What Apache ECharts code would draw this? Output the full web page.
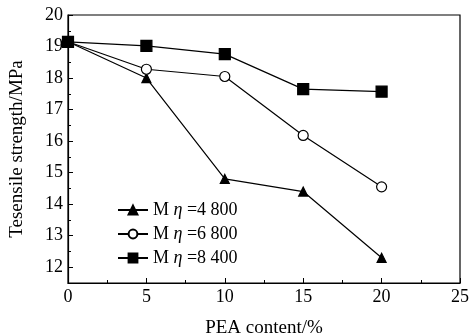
<!DOCTYPE html>
<html>
<head>
<meta charset="utf-8">
<script src="https://cdn.jsdelivr.net/npm/echarts@6/dist/echarts.min.js"></script>
<style>
  html, body { margin: 0; padding: 0; background: #fff; }
  #chart { width: 469px; height: 336px; }
</style>
</head>
<body>
<div id="chart"></div>
<script>
// PEA content (%)
var peaContent = [0, 5, 10, 15, 20];
// tensile strength (MPa) for each molecular weight
var mn4800 = [19.15, 18.0, 14.8, 14.4, 12.3];
var mn6800 = [19.15, 18.28, 18.05, 16.18, 14.55];
var mn8400 = [19.15, 19.02, 18.76, 17.65, 17.57];
var seriesNames = ['Mη =4 800', 'Mη =6 800', 'Mη =8 400'];
var yMajorTicks = [12, 13, 14, 15, 16, 17, 18, 19, 20];
var yMinorTicks = [12.5, 13.5, 14.5, 15.5, 16.5, 17.5, 18.5, 19.5];

var FONT = '"Liberation Serif", "Times New Roman", serif';

function pairs(ys) {
    return peaContent.map(function (x, i) { return [x, ys[i]]; });
}

var chart = echarts.init(document.getElementById('chart'));

function makeSeries(name, ys, symbol, size, fill) {
    return {
        name: name,
        type: 'line',
        data: pairs(ys),
        symbol: symbol,
        symbolSize: size,
        showAllSymbol: true,
        lineStyle: { color: '#000', width: 1.2 },
        itemStyle: { color: fill, borderColor: '#000', borderWidth: 1.2 },
        emphasis: { disabled: true },
        animation: false
    };
}

var options = {
    backgroundColor: '#fff',
    grid: {
        left: 68, right: 9, top: 15, bottom: 53,
        outerBoundsMode: 'none',
        containLabel: false,
        show: true, borderColor: '#000', borderWidth: 1.2
    },
    legend: {
        orient: 'vertical',
        left: 112,
        top: 196,
        itemWidth: 30,
        itemHeight: 11,
        itemGap: 6,
        data: seriesNames,
        formatter: function (name) {
            return name.replace('Mη', 'M {i|η}');
        },
        textStyle: {
            fontFamily: FONT, fontSize: 18, color: '#000',
            rich: { i: { fontFamily: FONT, fontSize: 18, fontStyle: 'italic', color: '#000' } }
        }
    },
    xAxis: {
        type: 'value',
        min: 0, max: 25, interval: 5,
        name: 'PEA content/%',
        nameLocation: 'middle',
        nameGap: 36,
        nameTextStyle: { fontFamily: FONT, fontSize: 19, color: '#000' },
        axisLine: { lineStyle: { color: '#000', width: 1.2 } },
        axisTick: { inside: true, length: 5, lineStyle: { color: '#000' } },
        minorTick: { show: true, splitNumber: 2, length: 3, lineStyle: { color: '#000' } },
        axisLabel: { fontFamily: FONT, fontSize: 18, color: '#000', margin: 5 },
        splitLine: { show: false }
    },
    yAxis: [{
        type: 'value',
        min: 11.5, max: 20,
        name: 'Tesensile strength/MPa',
        nameLocation: 'middle',
        nameGap: 41,
        nameTextStyle: { fontFamily: FONT, fontSize: 19, color: '#000' },
        axisLine: { lineStyle: { color: '#000', width: 1.2 } },
        axisTick: { inside: true, length: 5, customValues: yMajorTicks, lineStyle: { color: '#000' } },
        axisLabel: { fontFamily: FONT, fontSize: 18, color: '#000', margin: 5, customValues: yMajorTicks },
        splitLine: { show: false }
    }, {
        type: 'value',
        min: 11.5, max: 20,
        position: 'left',
        axisLine: { show: false },
        axisTick: { inside: true, length: 3, customValues: yMinorTicks, lineStyle: { color: '#000' } },
        axisLabel: { show: false, customValues: yMinorTicks },
        splitLine: { show: false }
    }],
    series: [
        makeSeries(seriesNames[0], mn4800, 'triangle', 9, '#000'),
        makeSeries(seriesNames[1], mn6800, 'circle', 10, '#fff'),
        makeSeries(seriesNames[2], mn8400, 'rect', 11, '#000')
    ]
};
chart.setOption(options);
window.onresize = function () {
    chart.resize();
};
</script>
</body>
</html>
